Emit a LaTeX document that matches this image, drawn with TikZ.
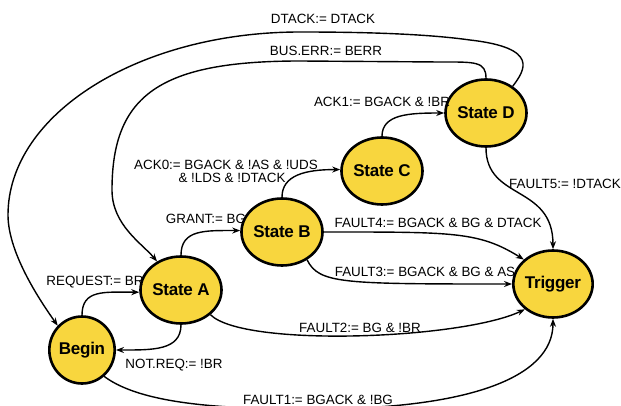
\documentclass[tikz,border=0pt]{standalone}
\usepackage{fontspec}
\setmainfont{Liberation Sans}
\newfontfamily\nodefont[LetterSpace=-1.5]{Liberation Sans}
\usetikzlibrary{shapes.geometric,arrows.meta}
\definecolor{stfill}{RGB}{248,214,62}
\begin{document}
\begin{tikzpicture}[x=1pt,y=-1pt,
  st/.style={ellipse,draw=black,line width=2.6pt,fill=stfill,minimum width=65pt,minimum height=67pt,inner sep=0pt,font=\nodefont\bfseries\fontsize{17}{17}\selectfont},
  edge/.style={line width=1.4pt,-{Stealth[length=8pt,width=6pt]}},
  lbl/.style={font=\fontsize{13.4}{14}\selectfont,inner sep=0pt,anchor=base}]
\useasboundingbox (0,0) rectangle (621,406);
\fill[white] (0,0) rectangle (621,406);
% states
\node[st] (Begin) at (82,350) {Begin};
\node[st] (A) at (181,290) {State A};
\node[st] (B) at (282,232) {State B};
\node[st] (C) at (382,171) {State C};
\node[st] (D) at (486,113) {State D};
\node[st] (T) at (553,284) {Trigger};
% free points of the long arcs
\coordinate (f1) at (315,409);
\coordinate (b1) at (440,62);
\coordinate (b2) at (300,61);
\coordinate (b3) at (112,190);
\coordinate (d1) at (470,40);
\coordinate (d2) at (300,32);
\coordinate (d3) at (8,215);
% edges
\draw[edge] (Begin.north) .. controls +(0,-26) and +(-35,0) .. (A.183);
\draw[edge] (A.south) .. controls +(0,26) and +(36,0) .. (Begin.east);
\draw[edge] (A.north) .. controls +(0,-26) and +(-35,0) .. (B.178);
\draw[edge] (B.north) .. controls +(0,-22) and +(-35,0) .. (C.178);
\draw[edge] (C.north) .. controls +(0,-22) and +(-35,0) .. (D.west);
\draw[edge] (D.south) .. controls +(0,53) and +(0,-65) .. (T.north);
\draw[edge] (B.east) .. controls +(130,0) and +(-45,-28) .. (T.140);
\draw[edge] (B.-48) .. controls +(12,24) and +(-170,0) .. (T.west);
\draw[edge] (A.-40) .. controls +(33,33) and +(-63,30) .. (T.-138);
\draw[edge] (Begin.-50) .. controls +(40,30) and +(-80,0) .. (f1) .. controls +(150,0) and +(0,60) .. (T.south);
\draw[edge] (D.north) .. controls +(0,-17) and +(35,0) .. (b1) -- (b2) .. controls +(-140,0) and +(0,-95) .. (b3) .. controls +(0,35) and +(-15,-18) .. (A.130);
\draw[edge] (D.45) .. controls +(12,-16) and +(70,8) .. (d1) .. controls +(-50,-7) and +(50,0) .. (d2) .. controls +(-161,0) and +(0,-101) .. (d3) .. controls +(0,40) and +(-14,-20) .. (Begin.135);
% labels
\node[lbl] (lDT) at (323,24) {DTACK:= DTACK};
\node[lbl] (lBE) at (326,56) {BUS.ERR:= BERR};
\node[lbl] (lA1) at (382,107) {ACK1:= BGACK \& !BR};
\node[lbl] (lA0a) at (226,170) {ACK0:= BGACK \& !AS \& !UDS};
\node[lbl] (lA0b) at (232,183) {\& !LDS \& !DTACK};
\node[lbl] (lGR) at (206,224) {GRANT:= BG};
\node[lbl] (lRQ) at (95,285) {REQUEST:= BR};
\node[lbl] (lNR) at (174,368) {NOT.REQ:= !BR};
\node[lbl] (lF5) at (565,189) {FAULT5:= !DTACK};
\node[lbl] (lF4) at (438,228) {FAULT4:= BGACK \& BG \& DTACK};
\node[lbl] (lF3) at (425,276) {FAULT3:= BGACK \& BG \& AS};
\node[lbl] (lF2) at (360,332) {FAULT2:= BG \& !BR};
\node[lbl] (lF1) at (318,404) {FAULT1:= BGACK \& !BG};
\end{tikzpicture}
\end{document}
